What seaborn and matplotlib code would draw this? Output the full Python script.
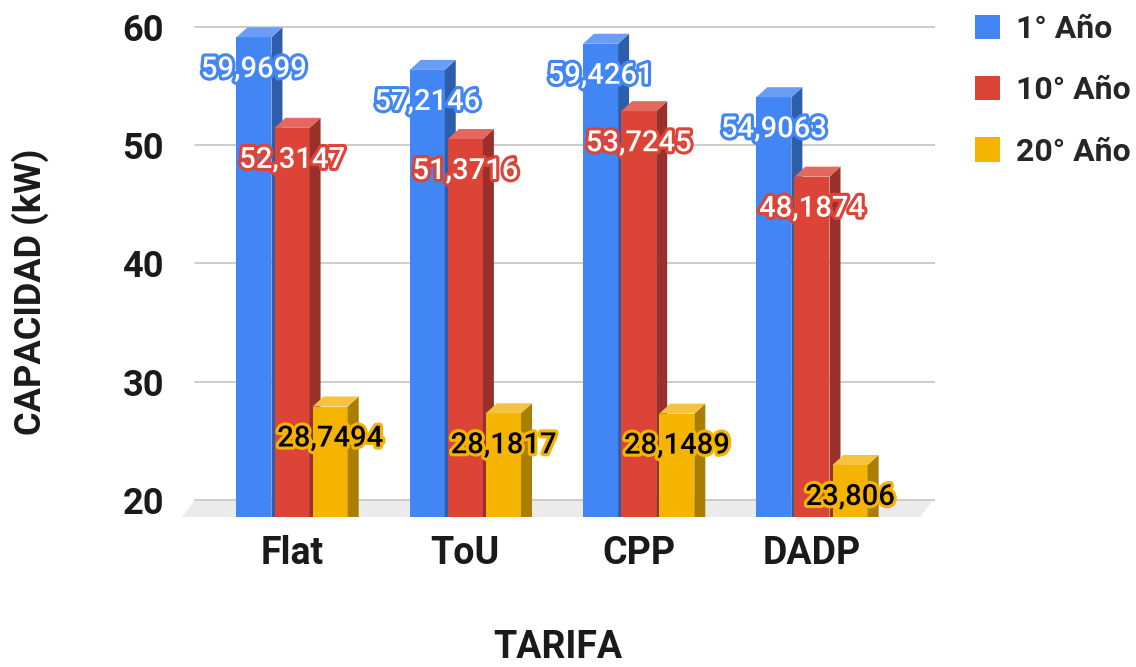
import pandas as pd
import matplotlib.pyplot as plt
import seaborn as sns
import matplotlib.patheffects as pe
from matplotlib.patches import Polygon, Patch

tarifas = ['Flat', 'ToU', 'CPP', 'DADP']
series = ['1° Año', '10° Año', '20° Año']
anio_1 = [59.9699, 57.2146, 59.4261, 54.9063]
anio_10 = [52.3147, 51.3716, 53.7245, 48.1874]
anio_20 = [28.7494, 28.1817, 28.1489, 23.806]
y_ticks = [20, 30, 40, 50, 60]

front = ['#4285F4', '#DB4437', '#F4B400']
side = ['#2E5DAA', '#99302A', '#AA7E00']
top = ['#6A9DF6', '#E3695E', '#F6C33F']
txt_col = ['white', 'white', 'black']

df = pd.DataFrame({
    'tarifa': tarifas * 3,
    'serie': [s for s in series for _ in tarifas],
    'valor': anio_1 + anio_10 + anio_20,
})

sns.set_theme(style='white')
plt.rcParams['font.family'] = ['Roboto', 'DejaVu Sans']

fig = plt.figure(figsize=(11.36, 6.67), dpi=100)
# plot area in pixels: x 182..935, y 20..517
ax = fig.add_axes([182 / 1136, 150 / 667, 753 / 1136, 497 / 667])

sns.barplot(data=df, x='tarifa', y='valor', hue='serie', palette=front,
            width=0.66, gap=0.08, saturation=1, linewidth=0,
            legend=False, ax=ax)

xlim = (-0.635, 3.71)
ylim = (18.56, 60.59)
ax.set_xlim(*xlim)
ax.set_ylim(*ylim)

xpp = (xlim[1] - xlim[0]) / 753
ypp = (ylim[1] - ylim[0]) / 497
dxd = 11 * xpp   # depth of the 3d bars
dyd = 10 * ypp

# floor slab and back-plane grid
floor = Polygon([(0, 0), (738 / 753, 0), (751 / 753, 17 / 497), (13 / 753, 17 / 497)],
                closed=True, transform=ax.transAxes, facecolor='#EBEBEB',
                edgecolor='none', zorder=0.5)
ax.add_patch(floor)
for t in y_ticks:
    ax.axhline(t, xmin=13 / 753, xmax=1, color='#CCCCCC', lw=1.4, zorder=1)

for i, cont in enumerate(ax.containers):
    for rect in cont:
        x0, w, v = rect.get_x(), rect.get_width(), rect.get_height()
        rect.set_height(v - dyd)
        rect.set_zorder(3 + i)
        ybot = ylim[0] - 2
        ax.add_patch(Polygon([(x0 + w, ybot), (x0 + w, v - dyd), (x0 + w + dxd, v),
                              (x0 + w + dxd, ybot)], closed=True,
                             facecolor=side[i], edgecolor='none', zorder=3 + i))
        ax.add_patch(Polygon([(x0, v - dyd), (x0 + w, v - dyd), (x0 + w + dxd, v),
                              (x0 + dxd, v)], closed=True,
                             facecolor=top[i], edgecolor='none', zorder=3 + i))
        lbl = f'{v:g}'.replace('.', ',')
        ax.annotate(lbl, xy=(x0 + w / 2, v - dyd), xytext=(0, -32 * 0.72),
                    textcoords='offset points', ha='center', va='center',
                    fontsize=21, fontweight='medium', color=txt_col[i], zorder=20,
                    annotation_clip=False,
                    path_effects=[pe.withStroke(linewidth=4.5, foreground=front[i])])

ax.set_yticks(y_ticks)
ax.set_yticklabels([str(t) for t in y_ticks])
ax.tick_params(axis='y', length=0, pad=13, labelsize=26)
ax.tick_params(axis='x', length=0, pad=13, labelsize=27)
for lab in ax.get_xticklabels() + ax.get_yticklabels():
    lab.set_fontweight('bold')
    lab.set_color('#1a1a1a')
ax.set_xlabel('')
ax.set_ylabel('')
sns.despine(ax=ax, left=True, bottom=True)
ax.grid(False)

fig.text(30 / 1136, 1 - 292 / 667, 'CAPACIDAD (kW)', rotation=90, ha='center',
         va='center', fontsize=26, fontweight='bold', color='#1a1a1a')
fig.text(558 / 1136, 1 - 647 / 667, 'TARIFA', ha='center', va='center',
         fontsize=27, fontweight='bold', color='#1a1a1a')

handles = [Patch(facecolor=c, edgecolor='none', label=s) for c, s in zip(front, series)]
fig.legend(handles=handles, loc='upper left', bbox_to_anchor=(975 / 1136, 1 - 14 / 667),
           frameon=False, prop={'size': 23, 'weight': 'bold'},
           borderaxespad=0, borderpad=0,
           handlelength=0.78, handleheight=0.78, labelspacing=0.98, handletextpad=0.5)

fig.savefig('out.png', dpi=100)
